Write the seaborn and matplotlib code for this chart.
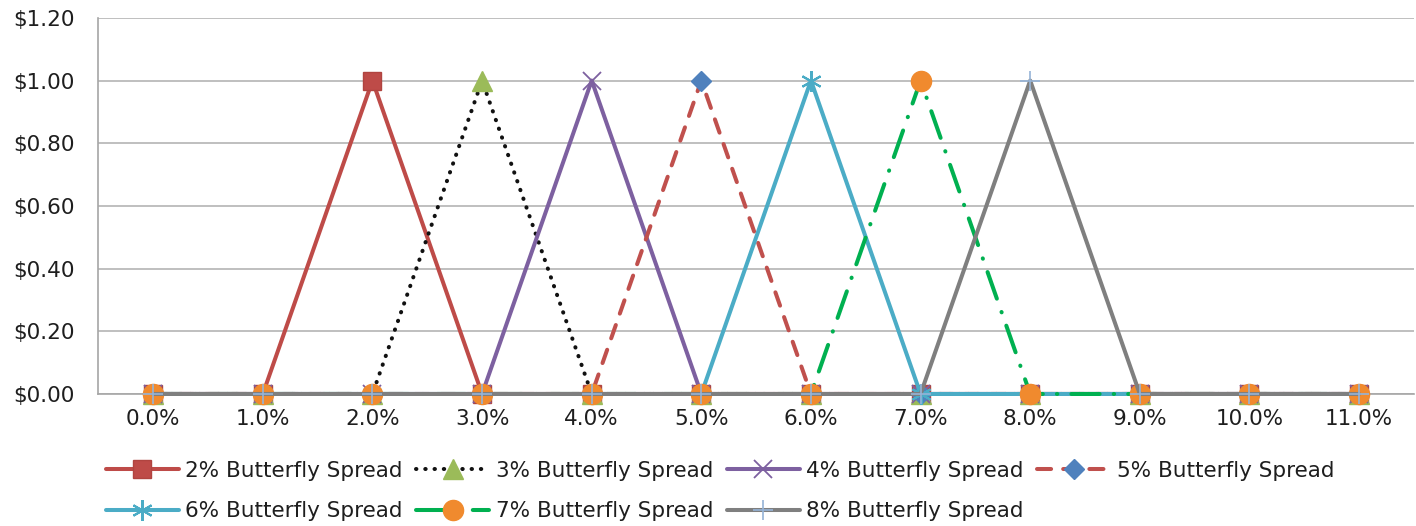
import matplotlib
matplotlib.use("Agg")
import matplotlib.pyplot as plt
import seaborn as sns
import pandas as pd

# Strike levels on the category axis
strikes = ["0.0%", "1.0%", "2.0%", "3.0%", "4.0%", "5.0%",
           "6.0%", "7.0%", "8.0%", "9.0%", "10.0%", "11.0%"]

# Payoff of each butterfly spread at each strike
spread_2 = [0, 0, 1, 0, 0, 0, 0, 0, 0, 0, 0, 0]
spread_3 = [0, 0, 0, 1, 0, 0, 0, 0, 0, 0, 0, 0]
spread_4 = [0, 0, 0, 0, 1, 0, 0, 0, 0, 0, 0, 0]
spread_5 = [0, 0, 0, 0, 0, 1, 0, 0, 0, 0, 0, 0]
spread_6 = [0, 0, 0, 0, 0, 0, 1, 0, 0, 0, 0, 0]
spread_7 = [0, 0, 0, 0, 0, 0, 0, 1, 0, 0, 0, 0]
spread_8 = [0, 0, 0, 0, 0, 0, 0, 0, 1, 0, 0, 0]

series_names = ["2% Butterfly Spread", "3% Butterfly Spread", "4% Butterfly Spread",
                "5% Butterfly Spread", "6% Butterfly Spread", "7% Butterfly Spread",
                "8% Butterfly Spread"]
series_values = [spread_2, spread_3, spread_4, spread_5, spread_6, spread_7, spread_8]

y_ticks = [0.0, 0.2, 0.4, 0.6, 0.8, 1.0, 1.2]

sns.set_theme(style="white")
plt.rcParams["font.family"] = ["DejaVu Sans"]

FS = 15.5
TEXT = "#1E1E1E"

styles = [
    dict(color="#BE4B48", linestyle="-", marker="s", markersize=13,
         markerfacecolor="#BE4B48", markeredgecolor="#B04440", markeredgewidth=1),
    dict(color="#111111", linestyle=(0, (0.1, 2.2)), dash_capstyle="round", marker="^",
         markersize=14, markerfacecolor="#9BBB59", markeredgecolor="#9BBB59", markeredgewidth=1),
    dict(color="#7D60A0", linestyle="-", marker="x", markersize=13,
         markerfacecolor="#7D60A0", markeredgecolor="#7D60A0", markeredgewidth=1.3),
    dict(color="#C0504D", linestyle=(0, (3.5, 3)), dash_capstyle="round", marker="D",
         markersize=10, markerfacecolor="#4F81BD", markeredgecolor="#4F81BD", markeredgewidth=1),
    dict(color="#4BACC6", linestyle="-", marker=(6, 2, 0), markersize=15,
         markerfacecolor="#4BACC6", markeredgecolor="#4BACC6", markeredgewidth=1.5),
    dict(color="#00B050", linestyle=(0, (7, 3.5, 0.1, 3.5)), dash_capstyle="round", marker="o",
         markersize=14.5, markerfacecolor="#F08A2E", markeredgecolor="#F08A2E", markeredgewidth=1),
    dict(color="#7F7F7F", linestyle="-", marker="+", markersize=14,
         markerfacecolor="#95B3D7", markeredgecolor="#95B3D7", markeredgewidth=1.2),
]

fig = plt.figure(figsize=(14.16, 5.26), dpi=100)
ax = fig.add_axes([0.0695, 0.251, 0.929, 0.715])

positions = list(range(len(strikes)))
handles = []
for name, values, st in zip(series_names, series_values, styles):
    df = pd.DataFrame({"x": positions, "y": values})
    sns.lineplot(data=df, x="x", y="y", ax=ax, linewidth=2.9, label=name,
                 legend=False, clip_on=False, zorder=3, **st)
    handles.append(ax.lines[-1])

ax.set_xlim(-0.5, len(strikes) - 0.5)
ax.set_ylim(0, 1.2)
ax.set_yticks(y_ticks)
ax.set_yticklabels([f"${v:.2f}" for v in y_ticks], fontsize=FS, color=TEXT)
ax.set_xticks(positions)
ax.set_xticklabels(strikes, fontsize=FS, color=TEXT)
ax.set_xticks([p - 0.5 for p in positions] + [len(strikes) - 0.5], minor=True)
ax.tick_params(axis="x", which="major", length=0, pad=11)
ax.tick_params(axis="x", which="minor", length=6, width=1, color="#A6A6A6", direction="out")
ax.tick_params(axis="y", which="major", length=8, width=1, color="#A6A6A6",
               direction="out", pad=9)
ax.set_xlabel("")
ax.set_ylabel("")
ax.grid(axis="y", color="#B4B4B4", linewidth=1.2)
ax.set_axisbelow(True)
for side in ["top", "right"]:
    ax.spines[side].set_visible(False)
for side in ["left", "bottom"]:
    ax.spines[side].set_color("#A6A6A6")
    ax.spines[side].set_linewidth(1.2)

# Row-major legend order for a 4-column, 2-row layout
order = [0, 4, 1, 5, 2, 6, 3]
fig.legend([handles[i] for i in order], [series_names[i] for i in order],
           ncol=4, loc="lower left", bbox_to_anchor=(0.061, -0.028), frameon=False,
           fontsize=FS, handlelength=3.4, handletextpad=0.3, columnspacing=0.62,
           labelspacing=0.95, labelcolor=TEXT)

fig.savefig("out.png", dpi=100)
